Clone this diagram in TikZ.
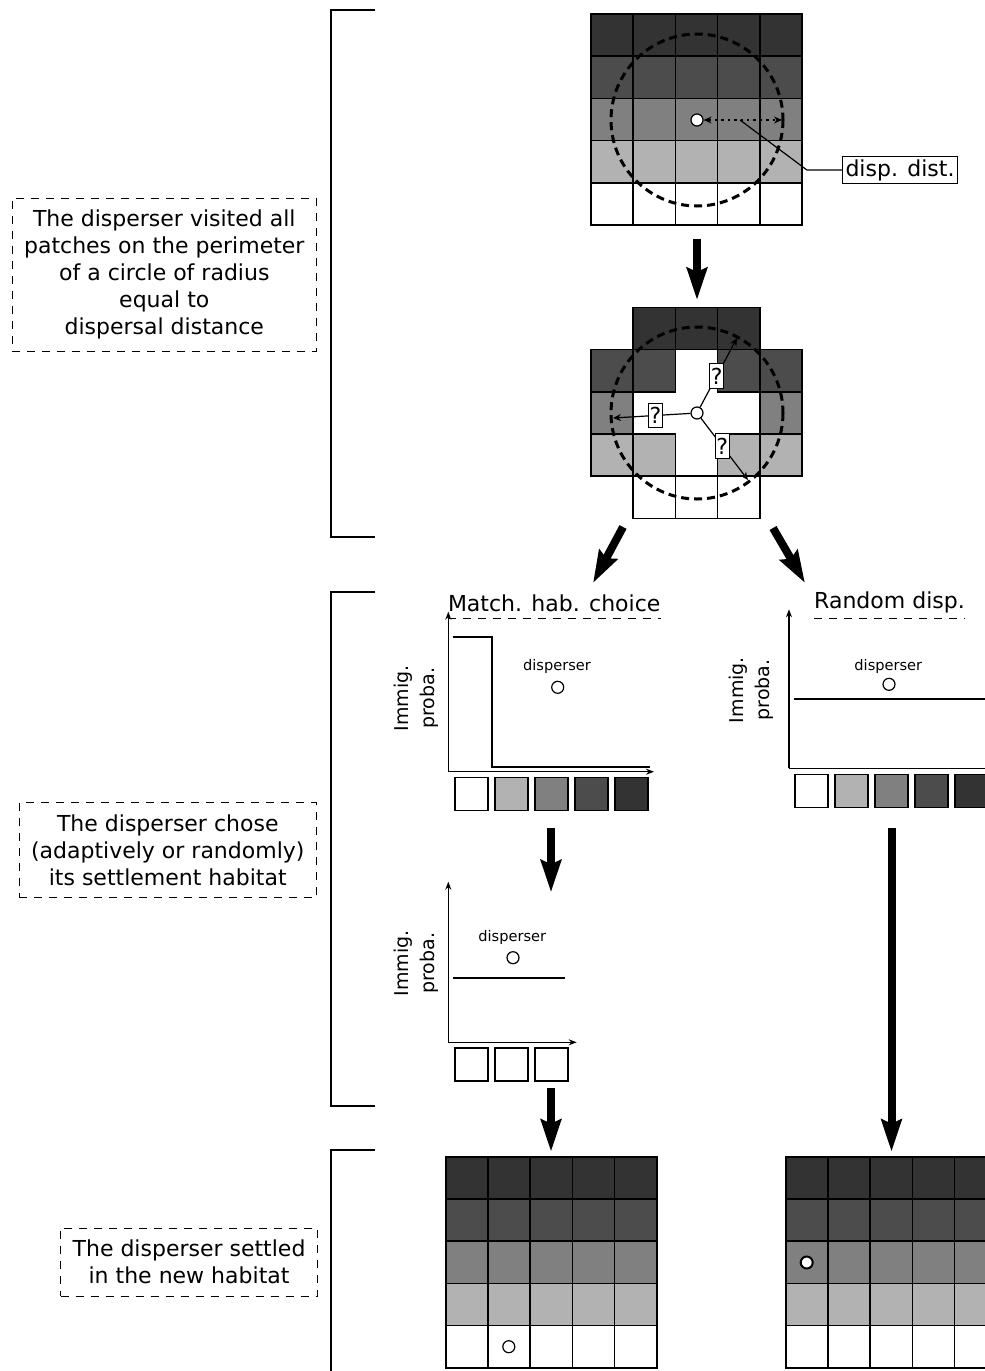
\documentclass[tikz,border=0pt]{standalone}
\usepackage{fontspec}
\setmainfont{DejaVu Sans}
\usetikzlibrary{arrows.meta,positioning}
\colorlet{shadeA}{black!80}
\colorlet{shadeB}{black!70}
\colorlet{shadeC}{black!50}
\colorlet{shadeD}{black!30}
\colorlet{shadeE}{white}
\tikzstyle{cell}=[draw,line width=.8pt]
\tikzstyle{disp}=[draw,circle,fill=white,inner sep=0pt,minimum size=6pt,line width=.6pt]
\tikzstyle{note}=[draw,dash pattern=on 4pt off 3.5pt,line width=.5pt,align=center,
  inner sep=6pt]
\tikzstyle{bigarrow}=[line width=4pt,-{Stealth[length=16pt,width=10pt,inset=2pt]}]
\tikzstyle{reach}=[dash pattern=on 4pt off 2.5pt,line width=1.5pt]
\tikzstyle{ask}=[draw,fill=white,inner xsep=.6pt,inner ysep=2pt,line width=.6pt]
\tikzstyle{axes}=[line width=.6pt,-{Stealth[length=4pt,width=3pt]}]
\tikzstyle{swatch}=[draw,line width=.8pt,minimum size=16.5pt,inner sep=0pt]
\tikzstyle{bracket}=[line width=1pt]
\tikzstyle{caption}=[anchor=base,inner sep=0pt]
\tikzstyle{dashline}=[dash pattern=on 4pt off 3.5pt,line width=.5pt]
\tikzstyle{ylabel}=[rotate=90,align=center,font=\fontsize{9.5}{13}\selectfont]
\tikzstyle{dlabel}=[font=\fontsize{7.3}{8}\selectfont]

\newcommand{\habgrid}[2]{%
  \foreach \c [count=\j from 0] in {shadeA,shadeB,shadeC,shadeD,shadeE}
    \foreach \k in {0,...,4}
      \draw[cell,fill=\c] ({#1+42.2*\k},{#2+42.2*\j}) rectangle ++(42.2,42.2);}

\begin{document}
\begin{tikzpicture}[x=.5pt,y=-.5pt,>={Stealth[length=4pt,width=3.5pt]},
  font=\fontsize{11}{13.5}\selectfont]
\useasboundingbox (0,0) rectangle (985,1371);
\clip (0,0) rectangle (985,1371);

% stages
\draw[bracket] (375,10) -- (331,10) -- (331,537) -- (375,537);
\draw[bracket] (375,592) -- (331,592) -- (331,1106) -- (375,1106);
\draw[bracket] (375,1150) -- (331,1150) -- (331,1380);

\node[note,anchor=east] (n1) at (317,274.7) {The disperser visited all\\patches on the perimeter\\of a circle of radius\\equal to\\dispersal distance};
\node[note,anchor=east] (n2) at (317,850.3) {The disperser chose\\(adaptively or randomly)\\its settlement habitat};
\node[note,anchor=east] (n3) at (318,1262) {The disperser settled\\in the new habitat};

% initial habitat
\habgrid{591}{14}
\draw[reach] (697,120) circle (86);
\node[disp] (d1) at (697,120) {};
\coordinate (r1) at (782,120);
\draw[<->,line width=1.2pt,dash pattern=on 1.2pt off 2pt] (d1) -- (r1);
\node[draw,line width=.6pt,inner sep=1.5pt] (dd) at (900,170) {disp. dist.};
\coordinate (m1) at (740,120);
\draw[line width=.6pt] (dd.west) -- ++(-35,0) -- (m1);

\coordinate (a1) at (697,239);
\coordinate (b1) at (697,300);
\draw[bigarrow] (a1) -- (b1);

% visited patches
\foreach \k/\j/\c in {1/0/shadeA,2/0/shadeA,3/0/shadeA,0/1/shadeB,1/1/shadeB,3/1/shadeB,
  4/1/shadeB,0/2/shadeC,4/2/shadeC,0/3/shadeD,1/3/shadeD,3/3/shadeD,4/3/shadeD,
  1/4/shadeE,2/4/shadeE,3/4/shadeE}
  \draw[cell,fill=\c] ({591+42.2*\k},{307.3+42.2*\j}) rectangle ++(42.2,42.2);
\draw[reach] (697,413) circle (86);
\node[disp] (d2) at (697,413) {};
\coordinate (p1) at (613,418);
\coordinate (p2) at (737,338);
\coordinate (p3) at (748,480);
\draw[->,line width=.6pt] (d2) -- node[ask,pos=.45] {?} (p1);
\draw[->,line width=.6pt] (d2) -- node[ask,pos=.45] {?} (p2);
\draw[->,line width=.6pt] (d2) -- node[ask,pos=.45] {?} (p3);

\coordinate (a2) at (623,527);
\coordinate (b2) at (593,583);
\coordinate (a3) at (773,528);
\coordinate (b3) at (805,583);
\draw[bigarrow] (a2) -- (b2);
\draw[bigarrow] (a3) -- (b3);

% matching habitat choice
\node[caption] (t1) at (554.2,611.7) {Match. hab. choice};
\draw[dashline] ([yshift=-3.3pt]t1.base west) -- ([yshift=-3.3pt]t1.base east);
\coordinate (o1) at (448.3,771.7);
\coordinate (y1) at (448.3,611.7);
\coordinate (x1) at (654,771.7);
\draw[axes] (o1) -- (y1);
\draw[axes] (o1) -- (x1);
\draw[line width=.9pt] (452.7,637.3) -- (492.3,637.3) -- (492.3,767.3) -- (650,767.3);
\node[ylabel] (i1) at (416.7,698.3) {Immig.\\proba.};
\node[dlabel] (l1) at (557,666) {disperser};
\node[disp] (c1) at (557.7,687.3) {};
\foreach \c [count=\i from 0] in {shadeE,shadeD,shadeC,shadeB,shadeA}
  \node[swatch,fill=\c] (s\i) at ({471.7+39.9*\i},793.8) {};

% random dispersal
\node[caption] (t2) at (889.5,608.3) {Random disp.};
\draw[dashline] ([yshift=-5pt]t2.base west) -- ([yshift=-5pt]t2.base east);
\coordinate (o2) at (789,768.3);
\coordinate (y2) at (789,609.3);
\coordinate (x2) at (1000,768.3);
\draw[axes] (o2) -- (y2);
\draw[axes] (o2) -- (x2);
\draw[line width=.9pt] (794,699.3) -- (1000,699.3);
\node[ylabel] (i2) at (751.7,690) {Immig.\\proba.};
\node[dlabel] (l2) at (888.3,666) {disperser};
\node[disp] (c2) at (889,684.3) {};
\foreach \c [count=\i from 0] in {shadeE,shadeD,shadeC,shadeB,shadeA}
  \node[swatch,fill=\c] (r\i) at ({811.7+39.9*\i},790.8) {};

% remaining habitat
\coordinate (a4) at (551,828);
\coordinate (b4) at (551,892.3);
\draw[bigarrow] (a4) -- (b4);
\coordinate (o3) at (448.3,1042.3);
\coordinate (y3) at (448.3,881.7);
\coordinate (x3) at (576.7,1042.3);
\draw[axes] (o3) -- (y3);
\draw[axes] (o3) -- (x3);
\draw[line width=.9pt] (453.3,978.3) -- (565.3,978.3);
\node[ylabel] (i3) at (415.8,963.3) {Immig.\\proba.};
\node[dlabel] (l3) at (512.3,937.3) {disperser};
\node[disp] (c3) at (513,957.7) {};
\foreach \i in {0,1,2}
  \node[swatch,fill=white] (m\i) at ({471.2+40*\i},1064.5) {};

% settlement
\coordinate (a5) at (551,1088);
\coordinate (b5) at (551,1151.7);
\draw[bigarrow] (a5) -- (b5);
\coordinate (a6) at (891.5,828);
\coordinate (b6) at (891.5,1151.7);
\draw[bigarrow] (a6) -- (b6);

\habgrid{445.7}{1156.7}
\habgrid{785.7}{1156.7}
\node[disp] (d3) at (508.8,1346.7) {};
\node[disp,line width=1pt] (d4) at (806.7,1262.5) {};
\end{tikzpicture}
\end{document}
